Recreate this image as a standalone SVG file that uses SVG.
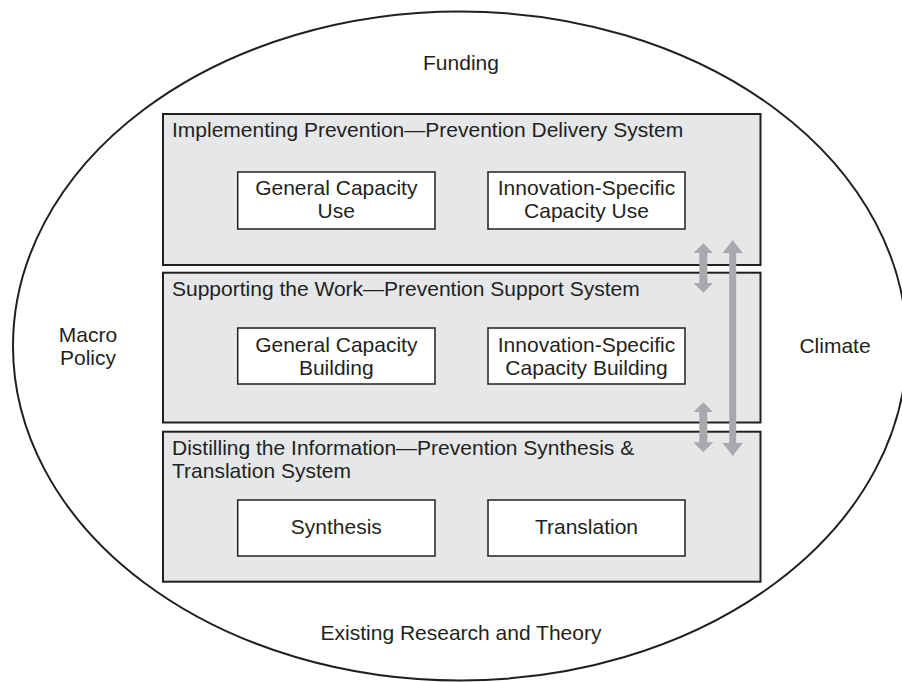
<svg xmlns="http://www.w3.org/2000/svg" width="902" height="682" viewBox="0 0 902 682">
<style>
text{font-family:"Liberation Sans",Arial,sans-serif;font-size:21px;fill:#231f20}
.c{text-anchor:middle}
.sys{fill:#e6e7e8;stroke:#231f20;stroke-width:2}
.box{fill:#ffffff;stroke:#231f20;stroke-width:1.5}
.arr{stroke:#a7a9ac;fill:none}
</style>
<defs>
<marker id="hs" markerUnits="userSpaceOnUse" viewBox="0 0 10 20" markerWidth="10" markerHeight="20" refX="0.5" refY="10" orient="auto-start-reverse"><path d="M0,0 L10,10 L0,20 Z" fill="#a7a9ac"/></marker>
<marker id="hl" markerUnits="userSpaceOnUse" viewBox="0 0 13 20" markerWidth="13" markerHeight="20" refX="0.5" refY="10" orient="auto-start-reverse"><path d="M0,0 L13,10 L0,20 Z" fill="#a7a9ac"/></marker>
</defs>
<rect width="902" height="682" fill="#ffffff"/>
<g id="context">
<ellipse cx="460" cy="346" rx="447" ry="334.5" fill="none" stroke="#231f20" stroke-width="2"/>
<text class="c" x="461" y="70">Funding</text>
<text class="c" x="461" y="640">Existing Research and Theory</text>
<text class="c" x="88" y="342">Macro</text>
<text class="c" x="88" y="365">Policy</text>
<text class="c" x="835" y="353">Climate</text>
</g>
<g id="delivery">
<rect class="sys" x="163" y="114" width="597.5" height="151"/>
<text x="172" y="137">Implementing Prevention—Prevention Delivery System</text>
</g>
<g id="gc-use">
<rect class="box" x="237.7" y="172" width="197.3" height="57"/>
<text class="c" x="336.3" y="195">General Capacity</text>
<text class="c" x="336.3" y="218">Use</text>
</g>
<g id="is-use">
<rect class="box" x="488" y="172" width="197" height="57"/>
<text class="c" x="586.5" y="195">Innovation-Specific</text>
<text class="c" x="586.5" y="218">Capacity Use</text>
</g>
<g id="support">
<rect class="sys" x="163" y="272.7" width="597.5" height="149.8"/>
<text x="172" y="296">Supporting the Work—Prevention Support System</text>
</g>
<g id="gc-build">
<rect class="box" x="237.7" y="328" width="197.3" height="56"/>
<text class="c" x="336.3" y="351.7">General Capacity</text>
<text class="c" x="336.3" y="374.5">Building</text>
</g>
<g id="is-build">
<rect class="box" x="488" y="328" width="197" height="56"/>
<text class="c" x="586.5" y="351.7">Innovation-Specific</text>
<text class="c" x="586.5" y="374.5">Capacity Building</text>
</g>
<g id="synthesis-system">
<rect class="sys" x="163" y="431.7" width="597.5" height="150"/>
<text x="172" y="455">Distilling the Information—Prevention Synthesis &amp;</text>
<text x="172" y="478">Translation System</text>
</g>
<g id="synthesis">
<rect class="box" x="237.7" y="500" width="197.3" height="56"/>
<text class="c" x="336.3" y="534.3">Synthesis</text>
</g>
<g id="translation">
<rect class="box" x="488" y="500" width="197" height="56"/>
<text class="c" x="586.5" y="534.3">Translation</text>
</g>
<g id="connectors">
<line class="arr" x1="703.3" y1="252.7" x2="703.3" y2="283.3" stroke-width="8" marker-start="url(#hs)" marker-end="url(#hs)"/>
<line class="arr" x1="703.3" y1="411.7" x2="703.3" y2="442.7" stroke-width="8" marker-start="url(#hs)" marker-end="url(#hs)"/>
<line class="arr" x1="732.7" y1="252.5" x2="732.7" y2="443.5" stroke-width="7" marker-start="url(#hl)" marker-end="url(#hl)"/>
</g>
</svg>
